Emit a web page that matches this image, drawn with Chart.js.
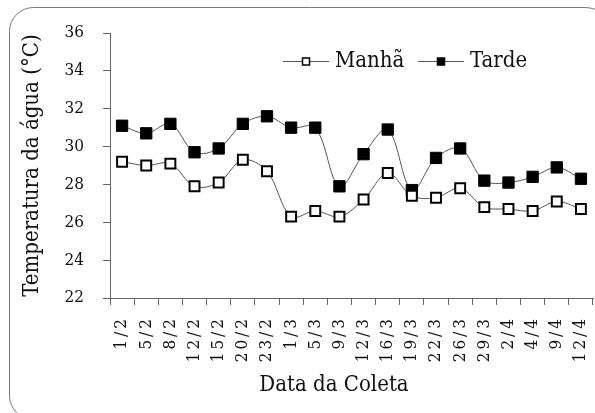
<!DOCTYPE html>
<html>
<head>
<meta charset="utf-8">
<script src="https://cdn.jsdelivr.net/npm/chart.js@4/dist/chart.umd.min.js"></script>
<style>
  html, body { margin: 0; padding: 0; background: #fff; }
  #wrap { position: relative; width: 595px; height: 413px; }
</style>
</head>
<body>
<div id="wrap"><canvas id="tempChart" width="595" height="413"></canvas></div>
<script>
// Data
const dates = ['1/2', '5/2', '8/2', '12/2', '15/2', '20/2', '23/2', '1/3', '5/3', '9/3',
  '12/3', '16/3', '19/3', '22/3', '26/3', '29/3', '2/4', '4/4', '9/4', '12/4'];
const manha = [29.2, 29.0, 29.1, 27.9, 28.1, 29.3, 28.7, 26.3, 26.6, 26.3,
  27.2, 28.6, 27.4, 27.3, 27.8, 26.8, 26.7, 26.6, 27.1, 26.7];
const tarde = [31.1, 30.7, 31.2, 29.7, 29.9, 31.2, 31.6, 31.0, 31.0, 27.9,
  29.6, 30.9, 27.7, 29.4, 29.9, 28.2, 28.1, 28.4, 28.9, 28.3];
const yTicks = [22, 24, 26, 28, 30, 32, 34, 36];

const serif = '"DejaVu Serif Condensed", "DejaVu Serif", serif';
const axisColor = '#666';

// Rounded frame, legend, axis titles; a bit of spacing on the date labels
const extras = {
  id: 'extras',
  afterLayout(chart) {
    const xs = chart.scales.x;
    if (!xs._spaced) {
      const orig = xs.drawLabels;
      xs.drawLabels = function (area) {
        this.ctx.save();
        this.ctx.letterSpacing = '3px';
        orig.call(this, area);
        this.ctx.restore();
      };
      xs._spaced = true;
    }
  },
  beforeDraw(chart) {
    const ctx = chart.ctx;
    ctx.save();
    ctx.strokeStyle = '#777';
    ctx.lineWidth = 1;
    ctx.beginPath();
    ctx.roundRect(9.5, 7.5, 600, 412, 24);
    ctx.stroke();
    ctx.restore();
  },
  afterDraw(chart) {
    const ctx = chart.ctx;
    const area = chart.chartArea;
    ctx.save();
    // legend
    const items = [
      { label: 'Manhã', x0: 283, x1: 329, fill: '#fff', tx: 335 },
      { label: 'Tarde', x0: 418, x1: 464, fill: '#000', tx: 470 }
    ];
    const ly = 61;
    items.forEach(it => {
      ctx.strokeStyle = '#555';
      ctx.lineWidth = 1;
      ctx.beginPath();
      ctx.moveTo(it.x0, ly + 0.5);
      ctx.lineTo(it.x1, ly + 0.5);
      ctx.stroke();
      const cx = (it.x0 + it.x1) / 2;
      ctx.fillStyle = it.fill;
      ctx.fillRect(cx - 3.5, ly - 3, 7, 7);
      ctx.strokeStyle = '#000';
      ctx.lineWidth = 1.5;
      ctx.strokeRect(cx - 3.5, ly - 3, 7, 7);
      ctx.fillStyle = '#111';
      ctx.font = '22px ' + serif;
      ctx.textAlign = 'left';
      ctx.textBaseline = 'middle';
      ctx.fillText(it.label, it.tx, ly);
    });
    // x axis title
    ctx.font = '22px ' + serif;
    ctx.textAlign = 'center';
    ctx.textBaseline = 'middle';
    ctx.fillText('Data da Coleta', 334, 385);
    // y axis title
    ctx.translate(32, (area.top + area.bottom) / 2);
    ctx.rotate(-Math.PI / 2);
    ctx.fillText('Temperatura da água (°C)', 0, 0);
    ctx.restore();
  }
};

const ctx = document.getElementById('tempChart').getContext('2d');
new Chart(ctx, {
  type: 'line',
  data: {
    labels: dates,
    datasets: [
      {
        label: 'Manhã',
        data: manha,
        borderColor: '#555',
        borderWidth: 1,
        tension: 0.35,
        pointStyle: 'rect',
        pointRadius: 7,
        pointBackgroundColor: '#fff',
        pointBorderColor: '#000',
        pointBorderWidth: 2
      },
      {
        label: 'Tarde',
        data: tarde,
        borderColor: '#555',
        borderWidth: 1,
        tension: 0.35,
        pointStyle: 'rect',
        pointRadius: 8,
        pointBackgroundColor: '#000',
        pointBorderColor: '#000',
        pointBorderWidth: 1
      }
    ]
  },
  options: {
    responsive: false,
    animation: false,
    events: [],
    layout: { autoPadding: false, padding: { top: 33, right: 2, left: 0, bottom: 0 } },
    plugins: {
      legend: { display: false },
      tooltip: { enabled: false }
    },
    scales: {
      x: {
        offset: true,
        afterFit: s => { s.height = 115; s.paddingLeft = 0; s.paddingRight = 0; },
        grid: { offset: true, drawOnChartArea: false, drawTicks: true, tickLength: 7, color: axisColor },
        border: { color: axisColor, width: 1 },
        ticks: {
          color: '#111',
          font: { family: serif, size: 17 },
          minRotation: 90,
          maxRotation: 90,
          autoSkip: false,
          padding: 11
        }
      },
      y: {
        min: 22,
        max: 36,
        afterFit: s => { s.width = 110; s.paddingTop = 0; s.paddingBottom = 0; },
        afterBuildTicks: s => { s.ticks = yTicks.map(v => ({ value: v })); },
        grid: { drawOnChartArea: false, drawTicks: true, tickLength: 7, color: axisColor },
        border: { color: axisColor, width: 1 },
        ticks: {
          color: '#111',
          font: { family: serif, size: 17 },
          padding: 19
        }
      }
    }
  },
  plugins: [extras]
});
</script>
</body>
</html>
